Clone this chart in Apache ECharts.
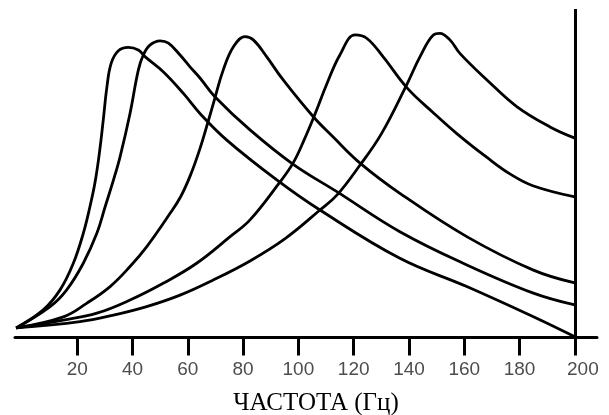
<!DOCTYPE html>
<html>
<head>
<meta charset="utf-8">
<script src="https://cdn.jsdelivr.net/npm/echarts@6/dist/echarts.min.js"></script>
<style>html,body{margin:0;padding:0;background:#fff}#c{width:609px;height:415px}</style>
</head>
<body>
<div id="c"></div>
<script>
// Frequency (Hz) ticks and x-axis title
var tickValues = [20, 40, 60, 80, 100, 120, 140, 160, 180, 200];
var axisTitle = 'ЧАСТОТА (Гц)';

// Five response curves: [frequency, relative amplitude 0..100]
var curve1 = [[-2.1,2.9],[7.7,8.4],[13.8,14.5],[18.6,22.6],[22.2,31.7],[24.6,39.8],[26.4,47.0],[28.0,56.0],[29.4,66.0],[30.7,76.0],[32.3,83.5],[34.9,87.3],[38.5,88.3],[42.1,87.5],[44.5,85.5],[51.1,80.9],[58.4,74.3],[64.4,68.2],[74.1,60.1],[92.3,47.9],[107.8,38.8],[136.7,24.1],[160.9,15.5],[185.0,6.3],[200,0.2]];
var curve2 = [[-2.1,2.9],[10.2,9.4],[16.2,14.5],[22.2,22.6],[27.1,31.7],[30.1,39.8],[33.1,47.9],[35.5,55.0],[39.1,68.2],[42.1,81.4],[43.9,86.0],[46.3,89.0],[50.0,90.3],[53.0,89.6],[57.2,86.0],[60.8,82.4],[64.4,79.0],[69.8,73.3],[82.5,63.2],[98.0,52.8],[113.9,44.4],[136.7,32.2],[160.9,22.1],[185.0,13.5],[200,9.9]];
var curve3 = [[-2.1,2.9],[15.0,6.3],[23.4,10.4],[31.9,15.5],[39.1,21.6],[45.1,27.6],[53.6,37.8],[57.5,43.0],[61.0,49.5],[64.4,57.5],[67.3,65.6],[69.8,72.9],[72.8,81.4],[76.5,88.5],[80.7,91.6],[83.7,90.6],[88.5,85.5],[94.5,78.4],[105.4,67.2],[112.5,61.1],[122.3,53.1],[136.7,43.9],[160.9,30.7],[185.0,20.5],[200,16.6]];
var curve4 = [[-2.1,2.9],[15.0,5.3],[27.1,7.4],[39.1,11.4],[51.1,16.5],[63.2,22.6],[75.3,30.7],[82.5,35.8],[93.3,47.3],[98.0,53.0],[102.0,60.0],[106.0,68.0],[110.2,77.0],[115.0,86.0],[120.5,92.1],[124.7,91.1],[130.6,85.5],[139.3,76.0],[148.7,68.5],[157.4,62.0],[168.2,54.8],[176.5,49.8],[184.8,46.2],[200,42.8]];
var curve5 = [[-2.1,2.9],[21.0,4.8],[33.1,6.8],[45.1,9.4],[57.2,12.9],[69.2,17.5],[82.5,23.3],[95.2,30.1],[107.8,38.8],[114.0,43.4],[122.3,52.5],[130.0,62.0],[139.2,77.0],[144.0,85.5],[148.8,92.1],[151.2,92.6],[154.8,90.6],[158.4,86.5],[168.2,78.4],[179.1,70.2],[191.0,64.1],[200,60.7]];
var curves = [curve1, curve2, curve3, curve4, curve5];

var chart = echarts.init(document.getElementById('c'), null, {renderer: 'canvas'});
var series = curves.map(function (d, i) {
  var s = {
    type: 'line',
    data: d,
    smooth: 0.4,
    showSymbol: false,
    symbol: 'none',
    silent: true,
    lineStyle: {color: '#000', width: 2.8},
    z: 3
  };
  if (i === 0) {
    s.markLine = {
      silent: true,
      symbol: ['none', 'none'],
      label: {show: false},
      lineStyle: {color: '#000', width: 3, type: 'solid'},
      data: [{xAxis: 200}]
    };
  }
  return s;
});

chart.setOption({
  animation: false,
  backgroundColor: '#fff',
  grid: {left: 15, right: 12, top: 9, bottom: 77.5, containLabel: false, outerBoundsMode: 'none'},
  xAxis: {
    type: 'value',
    min: -2.5,
    max: 208,
    name: axisTitle,
    nameLocation: 'middle',
    nameGap: 53,
    nameTextStyle: {fontFamily: 'Liberation Serif', fontSize: 25, color: '#000', padding: [0, 0, 0, 20]},
    axisLine: {show: true, onZero: false, lineStyle: {color: '#000', width: 3}},
    axisTick: {show: true, customValues: tickValues, length: 18, lineStyle: {color: '#000', width: 3}},
    axisLabel: {
      show: true,
      customValues: tickValues,
      margin: 23,
      color: '#4d4d4d',
      fontFamily: 'Liberation Sans',
      fontSize: 19,
      formatter: function (v) {
        return v === 200 ? '{r|' + v + '}' : String(v);
      },
      rich: {r: {padding: [0, 0, 0, 16], color: '#4d4d4d', fontFamily: 'Liberation Sans', fontSize: 19}}
    },
    splitLine: {show: false}
  },
  yAxis: {
    type: 'value',
    min: 0,
    max: 100,
    show: false,
    splitLine: {show: false}
  },
  series: series
});
</script>
</body>
</html>
